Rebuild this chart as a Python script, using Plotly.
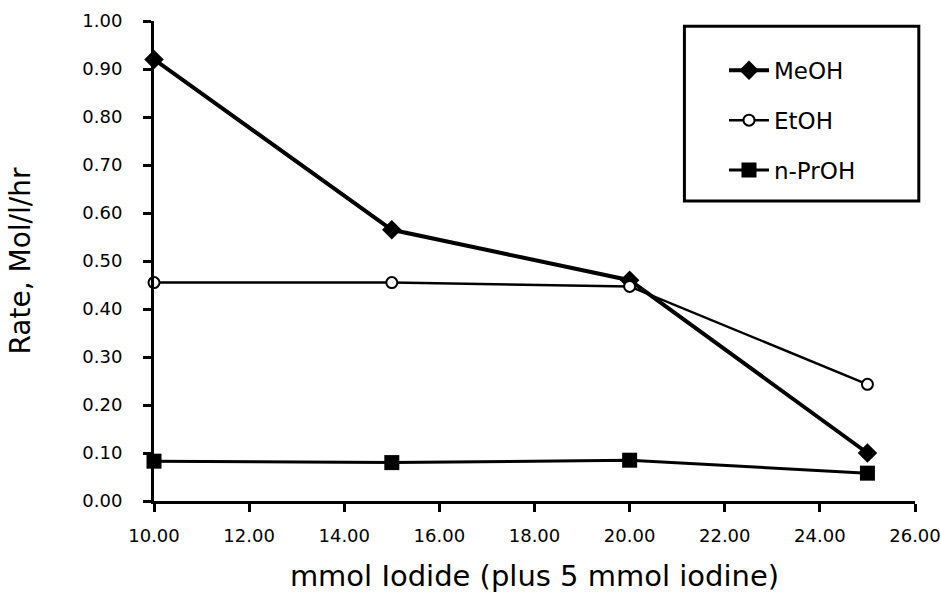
import plotly.graph_objects as go

x_vals = [10, 15, 20, 25]
meoh = [0.92, 0.565, 0.46, 0.10]
etoh = [0.455, 0.455, 0.447, 0.243]
nproh = [0.083, 0.08, 0.085, 0.058]
x_ticks = [10, 12, 14, 16, 18, 20, 22, 24, 26]

FONT = "DejaVu Sans, Liberation Sans, Arial, sans-serif"

fig = go.Figure()
fig.add_trace(go.Scatter(x=x_vals, y=meoh, name="MeOH", mode="lines+markers",
                         line=dict(color="black", width=4),
                         marker=dict(symbol="diamond", size=15, color="black"),
                         cliponaxis=False, legendgroup="a"))
fig.add_trace(go.Scatter(x=x_vals, y=etoh, name="EtOH", mode="lines+markers",
                         line=dict(color="black", width=2.5),
                         marker=dict(symbol="circle", size=11, color="white",
                                     line=dict(color="black", width=2)),
                         cliponaxis=False, legendgroup="b"))
fig.add_trace(go.Scatter(x=x_vals, y=nproh, name="n-PrOH", mode="lines+markers",
                         line=dict(color="black", width=3),
                         marker=dict(symbol="square", size=15, color="black"),
                         cliponaxis=False, legendgroup="c"))

fig.update_layout(
    width=941, height=606,
    margin=dict(l=154, r=26, t=21, b=105),
    plot_bgcolor="white", paper_bgcolor="white",
    font=dict(family=FONT, color="black", size=18),
    xaxis=dict(range=[10, 26], tickvals=x_ticks, automargin=False,
               tickformat=".2f", showgrid=False, zeroline=False,
               showline=True, linecolor="black", linewidth=3,
               ticks="outside", ticklen=8, tickwidth=3, tickcolor="black",
               tickfont=dict(size=18), ticklabelstandoff=8,
               title=dict(text="mmol Iodide (plus 5 mmol iodine)",
                          font=dict(size=29), standoff=22)),
    yaxis=dict(range=[0, 1], dtick=0.1, tickformat=".2f", showgrid=False,
               automargin=False,
               zeroline=False, showline=True, linecolor="black", linewidth=3,
               ticks="outside", ticklen=8, tickwidth=3, tickcolor="black",
               tickfont=dict(size=18), ticklabelstandoff=17,
               title=dict(text="Rate, Mol/l/hr", font=dict(size=28), standoff=44)),
    legend=dict(x=0.749, y=0.942, xanchor="left", yanchor="top",
                bgcolor="rgba(0,0,0,0)", borderwidth=0,
                font=dict(size=23), traceorder="grouped", tracegroupgap=17,
                itemwidth=40),
    shapes=[dict(type="rect", xref="paper", yref="paper",
                 x0=0.697, x1=1.005, y0=0.625, y1=0.989,
                 line=dict(color="black", width=3), fillcolor="rgba(0,0,0,0)")],
)

fig.write_html("out.html")
